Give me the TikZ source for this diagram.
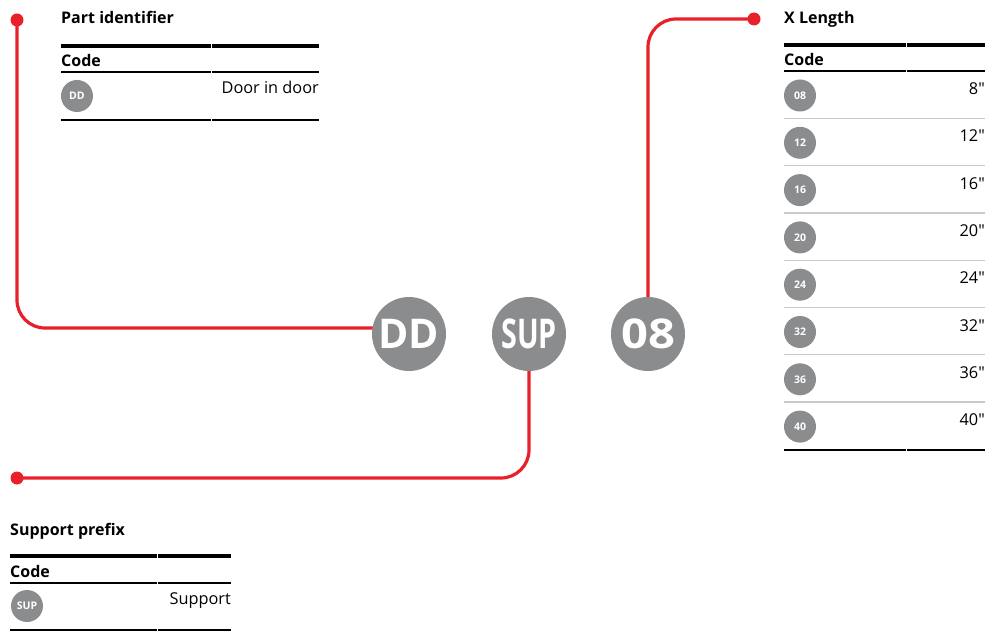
\documentclass[tikz,border=0pt]{standalone}
\usepackage{fontspec}
\setmainfont{Open Sans}
\usetikzlibrary{calc,backgrounds}
\definecolor{abbred}{HTML}{E8202A}
\definecolor{cgrey}{HTML}{8B8C8E}
\definecolor{sepgrey}{HTML}{CACACA}
\newcommand{\sqq}{\XeTeXglyph\XeTeXglyphindex "quotedbl"\relax}
\begin{document}
\begin{tikzpicture}[x=1pt,y=-1pt,
  bigc/.style={circle, fill=cgrey, minimum size=74pt, inner sep=0pt, text=white, font=\fontsize{41}{41}\selectfont\bfseries},
  smallc/.style={circle, fill=cgrey, minimum size=32pt, inner sep=0pt, text=white, font=\fontsize{10.5}{10.5}\selectfont\bfseries},
  ttl/.style={anchor=base west, inner sep=0pt, font=\fontsize{16}{16}\selectfont\bfseries},
  val/.style={anchor=base east, inner sep=0pt, font=\fontsize{16.3}{16.3}\selectfont},
  redline/.style={abbred, line width=3.2pt, rounded corners=28pt},
  reddot/.style={circle, fill=abbred, minimum size=13pt, inner sep=0pt},
  thickrule/.style={black, line width=4pt},
  midrule/.style={black, line width=2.2pt},
  seprule/.style={sepgrey, line width=1.3pt}
]
\useasboundingbox (0,0) rectangle (997,631);

% big circles
\node[bigc] (dd) at (409,334) {DD};
\node[bigc] (sup) at (529,334) {\scalebox{0.7}[1]{SUP}};
\node[bigc] (n08) at (648,334) {\scalebox{1.15}[1]{08}};

% end dots
\node[reddot] (d1) at (17,20) {};
\node[reddot] (d2) at (17,478) {};
\node[reddot] (d3) at (754,19) {};

\begin{scope}[on background layer]
\draw[redline] (d1.center) |- ($(dd.center)+(0,-6)$);
\draw[redline] (sup.center) |- (d2.center);
\draw[redline] (n08.center) |- (d3.center);
\end{scope}

% ---- Part identifier table
\node[ttl] (t1) at (61,24) {Part identifier};
\draw[thickrule] (61,46) -- (210.5,46);
\draw[thickrule] (211.5,46) -- (319,46);
\node[ttl] (c1) at (61,66.5) {Code};
\draw[midrule] (61,72) -- (210.5,72);
\draw[midrule] (211.5,72) -- (319,72);
\node[smallc] (s1) at (77,96) {DD};
\node[val] (v1) at (319,93.5) {Door in door};
\draw[midrule] (61,120) -- (210.5,120);
\draw[midrule] (211.5,120) -- (319,120);

% ---- Support prefix table
\node[ttl] (t2) at (10,535) {Support prefix};
\draw[thickrule] (10,556) -- (157,556);
\draw[thickrule] (158,556) -- (231,556);
\node[ttl] (c2) at (10,577.5) {Code};
\draw[midrule] (10,583) -- (157,583);
\draw[midrule] (158,583) -- (231,583);
\node[smallc] (s2) at (27,606) {SUP};
\node[val] (v2) at (231,604.5) {Support};
\draw[midrule] (10,630) -- (157,630);
\draw[midrule] (158,630) -- (231,630);

% ---- X Length table
\node[ttl] (t3) at (784,24) {X Length};
\draw[thickrule] (784,45) -- (905.5,45);
\draw[thickrule] (906.5,45) -- (985,45);
\node[ttl] (c3) at (784,65.5) {Code};
\draw[midrule] (784,71) -- (905.5,71);
\draw[midrule] (906.5,71) -- (985,71);
\foreach \i/\c/\v in {0/08/8,1/12/12,2/16/16,3/20/20,4/24/24,5/32/32,6/36/36,7/40/40}{
  \node[smallc] (x\i) at (800,{95.5+47.3*\i}) {\c};
  \node[val] (xv\i) at (985,{94.5+47.3*\i}) {\v\sqq};
}
\foreach \i in {1,...,7}{
  \draw[seprule] (784,{71+47.3*\i}) -- (985,{71+47.3*\i});
}
\draw[midrule] (784,450) -- (905.5,450);
\draw[midrule] (906.5,450) -- (985,450);
\end{tikzpicture}
\end{document}
